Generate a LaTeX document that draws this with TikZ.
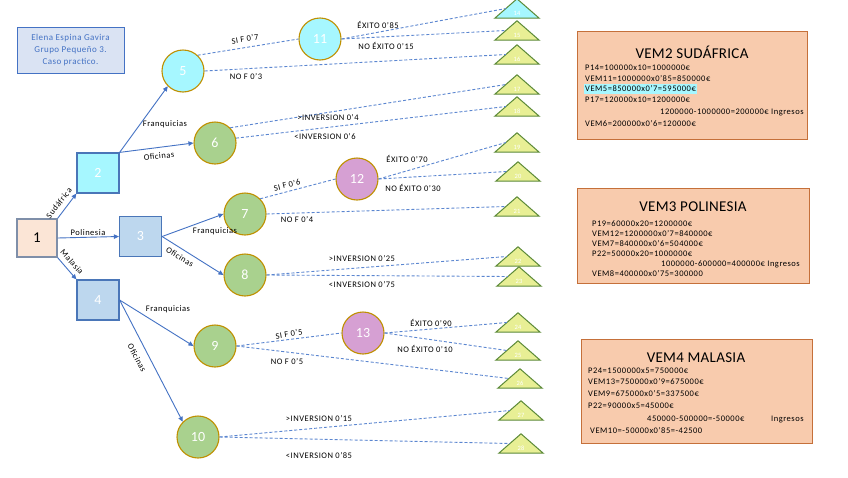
\documentclass[tikz,border=0pt]{standalone}
\usepackage{fontspec}
\setmainfont{Carlito}
\usetikzlibrary{arrows.meta,calc}
\definecolor{arrowblue}{HTML}{4472C4}
\definecolor{dashblue}{HTML}{5B86D0}
\definecolor{gold}{HTML}{BF9000}
\definecolor{cyanfill}{HTML}{A6F7FF}
\definecolor{greenfill}{HTML}{A9D18E}
\definecolor{purplefill}{HTML}{D6A0D3}
\definecolor{sqblue}{HTML}{BDD7EE}
\definecolor{sqborder}{HTML}{4A76B8}
\definecolor{peach}{HTML}{FBE5D6}
\definecolor{peachborder}{HTML}{7F8FA9}
\definecolor{trifill}{HTML}{E8EF95}
\definecolor{triborder}{HTML}{5C8A38}
\definecolor{boxfill}{HTML}{F8CBAD}
\definecolor{boxborder}{HTML}{C5703A}
\definecolor{namefill}{HTML}{DAE3F3}
\definecolor{nametext}{HTML}{4472C4}
\definecolor{hilite}{HTML}{A6F7FF}
\tikzset{
  sq/.style={rectangle, draw=sqborder, line width=1.2pt, minimum width=42pt, minimum height=40pt, inner sep=0pt, text=white, font=\fontsize{14}{16}\selectfont},
  circ/.style={circle, draw=gold, line width=1.1pt, minimum size=42pt, inner sep=0pt, text=white, font=\fontsize{14}{16}\selectfont},
  tribox/.style={rectangle, minimum width=44pt, minimum height=19pt, inner sep=0pt},
  triline/.style={draw=triborder, line width=1pt, line join=miter},
  trinum/.style={text=white, font=\fontsize{6.5}{7}\selectfont, inner sep=0pt},
  solidarrow/.style={draw=arrowblue, line width=0.9pt, -{Triangle[length=5pt,width=4.5pt]}},
  dashline/.style={draw=dashblue, line width=0.9pt, dash pattern=on 3pt off 2pt},
  lbl/.style={font=\fontsize{8.5}{10}\selectfont\addfontfeatures{LetterSpace=6}, inner sep=0pt, text=black},
  vembox/.style={rectangle, draw=boxborder, fill=boxfill, line width=1pt, inner sep=0pt},
  vemtitle/.style={font=\fontsize{15}{17}\selectfont\addfontfeatures{LetterSpace=2}, inner sep=0pt},
  vemline/.style={font=\fontsize{8.5}{10}\selectfont\addfontfeatures{LetterSpace=6}, inner sep=0pt, anchor=west},
}
\newcommand{\tri}[5]{%
  \node[tribox] (#1) at (#2,{#3+9.5}) {};
  \draw[triline, fill=#5] (#1.north) -- (#1.south east) -- (#1.south west) -- cycle;
  \node[trinum] (#1num) at ([yshift=5pt]#1.south) {#4};
  \coordinate (#1in) at ($(#1.north)!0.5!(#1.south west)$);
}
\begin{document}
\begin{tikzpicture}[x=1pt,y=-1pt]
\useasboundingbox (0,0) rectangle (848,477);
\fill[white] (0,0) rectangle (848,477);

% name box
\node[rectangle, draw=nametext, fill=namefill, line width=1pt, minimum width=107pt, minimum height=46pt, align=center, text=nametext, font=\fontsize{9}{12}\selectfont\addfontfeatures{LetterSpace=5}] (namebox) at (70.5,50) {Elena Espina Gavira\\Grupo Pequeño 3.\\Caso practico.};

% squares
\node[sq, fill=peach, draw=peachborder, text=black, minimum width=40pt, minimum height=38pt, font=\fontsize{15}{17}\selectfont] (n1) at (37,238) {1};
\node[sq, fill=cyanfill] (n2) at (98,173) {2};
\node[sq, fill=sqblue] (n3) at (140.5,236.5) {3};
\node[sq, fill=sqblue] (n4) at (98,300) {4};

% circles
\node[circ, fill=cyanfill] (c5) at (183,71) {5};
\node[circ, fill=greenfill] (c6) at (215,143) {6};
\node[circ, fill=greenfill] (c7) at (245,214) {7};
\node[circ, fill=greenfill] (c8) at (245,275) {8};
\node[circ, fill=greenfill] (c9) at (215,346) {9};
\node[circ, fill=greenfill] (c10) at (198,437) {10};
\node[circ, fill=cyanfill] (c11) at (320,39) {11};
\node[circ, fill=purplefill] (c12) at (357,179) {12};
\node[circ, fill=purplefill] (c13) at (363,333) {13};

% triangles
\tri{t14}{517}{-1}{14}{cyanfill}
\tri{t15}{517}{21}{15}{trifill}
\tri{t16}{517}{45}{16}{trifill}
\tri{t17}{517}{75}{17}{trifill}
\tri{t18}{517}{97}{18}{trifill}
\tri{t19}{517}{133}{19}{trifill}
\tri{t20}{518}{162}{20}{trifill}
\tri{t21}{517}{197}{21}{trifill}
\tri{t22}{518}{247}{22}{trifill}
\tri{t23}{519}{267}{23}{trifill}
\tri{t24}{518}{313}{24}{trifill}
\tri{t25}{518}{341}{25}{trifill}
\tri{t26}{520}{369}{26}{trifill}
\tri{t27}{521}{401}{27}{trifill}
\tri{t28}{521}{434}{28}{trifill}

% solid arrows
\draw[solidarrow] (n1.north east) -- (n2.south west);
\draw[solidarrow] (n1.east) -- (n3.west);
\draw[solidarrow] (n1.south east) -- (n4.north west);
\draw[solidarrow] (n2.north east) -- (c5.225);
\draw[solidarrow] (n2.north east) -- (c6.west);
\draw[solidarrow] (n3.east) -- (c7.west);
\draw[solidarrow] (n3.east) -- (c8.west);
\draw[solidarrow] (n4.east) -- (c9.west);
\draw[solidarrow] (n4.east) -- (c10.135);

% solid labels
\node[lbl, rotate=52] (lsud) at (59,203) {Sudáfrica};
\node[lbl] (lpol) at (88,233) {Polinesia};
\node[lbl, rotate=-48] (lmal) at (72,262) {Malasia};
\node[lbl] (lfr2) at (165,124) {Franquicias};
\node[lbl, rotate=5] (lof2) at (159,156) {Oficinas};
\node[lbl] (lfr3) at (215,231) {Franquicias};
\node[lbl, rotate=-32] (lof3) at (180,257) {Oficinas};
\node[lbl] (lfr4) at (168,309) {Franquicias};
\node[lbl, rotate=-62] (lof4) at (137,358) {Oficinas};

% dashed connectors
\draw[dashline] (c5.47) -- (c11.west);
\draw[dashline] (c5.east) -- (t16in);
\draw[dashline] (c11.east) -- (t14in);
\draw[dashline] (c11.east) -- (t15in);
\draw[dashline] (c6.45) -- (t17in);
\draw[dashline] (c6.13) -- (t18in);
\draw[dashline] (c7.45) -- (c12.west);
\draw[dashline] (c7.east) -- (t21in);
\draw[dashline] (c12.east) -- (t19in);
\draw[dashline] (c12.east) -- (t20in);
\draw[dashline] (c8.east) -- (t22in);
\draw[dashline] (c8.east) -- (t23in);
\draw[dashline] (c9.east) -- (c13.west);
\draw[dashline] (c9.east) -- (t26in);
\draw[dashline] (c13.east) -- (t24in);
\draw[dashline] (c13.east) -- (t25in);
\draw[dashline] (c10.east) -- (t27in);
\draw[dashline] (c10.east) -- (t28in);

% dashed labels
\node[lbl, rotate=9] (l57) at (245,39) {SI F 0’7};
\node[lbl] (l53) at (246,77) {NO F 0’3};
\node[lbl] (l1185) at (378,25) {ÉXITO 0’85};
\node[lbl] (l1115) at (386,46) {NO ÉXITO 0’15};
\node[lbl] (l64) at (328,118) {>INVERSION 0’4};
\node[lbl] (l66) at (325,137) {<INVERSION 0’6};
\node[lbl] (l1270) at (407,159) {ÉXITO 0’70};
\node[lbl] (l1230) at (413,188) {NO ÉXITO 0’30};
\node[lbl, rotate=14] (l76) at (287,185) {SI F 0’6};
\node[lbl] (l74) at (297,220) {NO F 0’4};
\node[lbl] (l825) at (362,259) {>INVERSION 0’25};
\node[lbl] (l875) at (362,285) {<INVERSION 0’75};
\node[lbl, rotate=9] (l95) at (289,334) {SI F 0’5};
\node[lbl] (l9n5) at (287,362) {NO F 0’5};
\node[lbl] (l1390) at (431,323) {ÉXITO 0’90};
\node[lbl] (l1310) at (425,349) {NO ÉXITO 0’10};
\node[lbl] (l1015) at (319,419) {>INVERSION 0’15};
\node[lbl] (l1085) at (319,456) {<INVERSION 0’85};

% VEM2 box
\node[vembox, minimum width=230pt, minimum height=108pt] (vem2) at (692,85) {};
\node[vemtitle] (vem2t) at (692,52) {VEM2 SUDÁFRICA};
\node[vemline] (v2a) at (585,68) {P14=100000x10=1000000€};
\node[vemline] (v2b) at (585,78.5) {VEM11=1000000x0’85=850000€};
\node[vemline, fill=hilite, inner xsep=1pt, inner ysep=1.5pt] (v2c) at (584,89) {VEM5=850000x0’7=595000€};
\node[vemline] (v2d) at (585,100) {P17=120000x10=1200000€};
\node[vemline] (v2e) at (660,112) {1200000-1000000=200000€ Ingresos};
\node[vemline] (v2f) at (585,124) {VEM6=200000x0’6=120000€};

% VEM3 box
\node[vembox, minimum width=232pt, minimum height=95pt] (vem3) at (693,235.5) {};
\node[vemtitle] (vem3t) at (693,207) {VEM3 POLINESIA};
\node[vemline] (v3a) at (592,224) {P19=60000x20=1200000€};
\node[vemline] (v3b) at (592,234) {VEM12=1200000x0’7=840000€};
\node[vemline] (v3c) at (592,244) {VEM7=840000x0’6=504000€};
\node[vemline] (v3d) at (592,254) {P22=50000x20=1000000€};
\node[vemline] (v3e) at (661,264) {1000000-600000=400000€ Ingresos};
\node[vemline] (v3f) at (592,274) {VEM8=400000x0’75=300000};

% VEM4 box
\node[vembox, minimum width=231pt, minimum height=104pt] (vem4) at (696.5,391) {};
\node[vemtitle] (vem4t) at (696,358) {VEM4 MALASIA};
\node[vemline] (v4a) at (588,371) {P24=1500000x5=750000€};
\node[vemline] (v4b) at (588,382) {VEM13=750000x0’9=675000€};
\node[vemline] (v4c) at (588,394) {VEM9=675000x0’5=337500€};
\node[vemline] (v4d) at (588,406) {P22=90000x5=45000€};
\node[vemline] (v4e) at (647,419) {450000-500000=-50000€};
\node[vemline] (v4g) at (771,419) {Ingresos};
\node[vemline] (v4f) at (590,431) {VEM10=-50000x0’85=-42500};
\end{tikzpicture}
\end{document}
